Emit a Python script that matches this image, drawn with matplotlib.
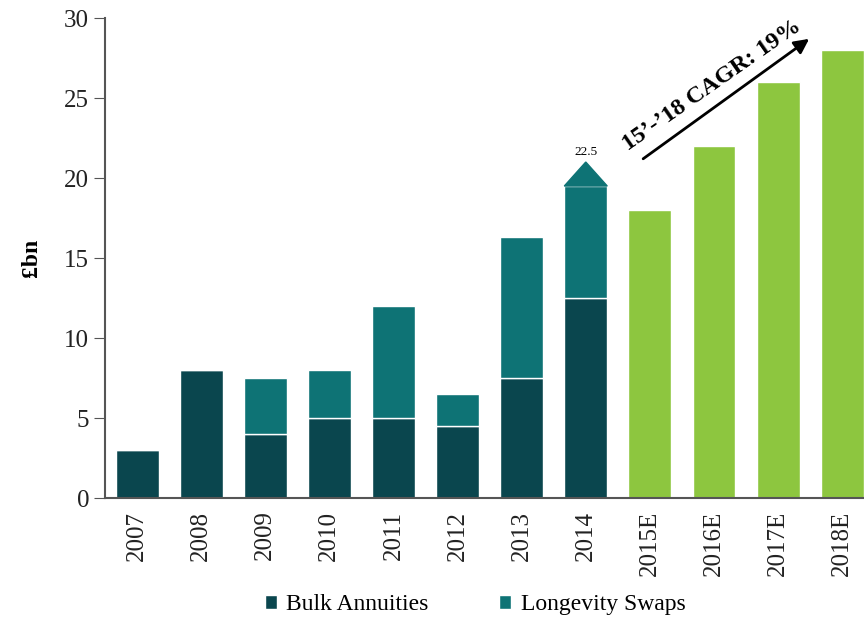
import numpy as np
import matplotlib.pyplot as plt
from matplotlib.patches import Polygon

# Data
years = ["2007", "2008", "2009", "2010", "2011", "2012", "2013", "2014",
         "2015E", "2016E", "2017E", "2018E"]
bulk = [3, 8, 4, 5, 5, 4.5, 7.5, 12.5, 0, 0, 0, 0]
longevity = [0, 0, 3.5, 3, 7, 2, 8.8, 7, 0, 0, 0, 0]
forecast = [0, 0, 0, 0, 0, 0, 0, 0, 18, 22, 26, 28]
label_2014 = "22.5"

dark = "#0a464e"
teal = "#0e7375"
green = "#8dc63f"

plt.rcParams['font.family'] = ['Liberation Serif', 'DejaVu Serif']

fig = plt.figure(figsize=(8.64, 6.21), dpi=100)
ax = fig.add_axes([0.1215, 0.198, 0.8785, 0.773])

x = np.arange(len(years))
w = 0.67
ax.bar(x, bulk, w, color=dark, edgecolor="white", linewidth=1, label="Bulk Annuities")
ax.bar(x, longevity, w, bottom=bulk, color=teal, edgecolor="white", linewidth=1,
       label="Longevity Swaps")
ax.bar(x, forecast, w, color=green, edgecolor="white", linewidth=1)

# arrow-head on top of 2014 bar
i = years.index("2014")
top = bulk[i] + longevity[i]
tri = Polygon([[x[i] - w / 2, top], [x[i] + w / 2, top], [x[i], top + 1.5]],
              closed=True, color=teal)
ax.add_patch(tri)
ax.text(x[i], top + 1.75, label_2014, ha="center", va="bottom", fontsize=9.5)

# CAGR arrow
ax.annotate("", xy=(10.52, 28.8), xytext=(7.86, 21.1),
            arrowprops=dict(arrowstyle="-|>", color="black", lw=2, mutation_scale=22))
ax.text(8.97, 25.8, "15’-’18 CAGR: 19%", rotation=35, ha="center", va="center",
        fontsize=17.5, fontweight="bold", rotation_mode="anchor")

ax.set_xlim(-0.5, 11.34)
ax.set_ylim(0, 30)
ax.set_yticks(range(0, 31, 5))
ax.set_xticks(x)
ax.set_xticklabels(years, rotation=90, fontsize=18, color="#222222")
ax.tick_params(axis="y", labelsize=18, direction="out", length=8, color="#555555",
               labelcolor="#222222")
ax.tick_params(axis="x", length=0, pad=9)
ax.set_ylabel("£bn", fontsize=17, fontweight="bold", labelpad=16)

for s in ["top", "right"]:
    ax.spines[s].set_visible(False)
ax.spines["left"].set_color("#555555")
ax.spines["bottom"].set_color("#555555")
ax.spines["left"].set_linewidth(1.5)
ax.spines["bottom"].set_linewidth(1.5)

fig.legend(loc="center", bbox_to_anchor=(0.55, 0.026), ncol=2, frameon=False,
           fontsize=17, handlelength=0.5, handleheight=0.5, handletextpad=0.4,
           columnspacing=3.0)

fig.savefig("out.png", dpi=100)
